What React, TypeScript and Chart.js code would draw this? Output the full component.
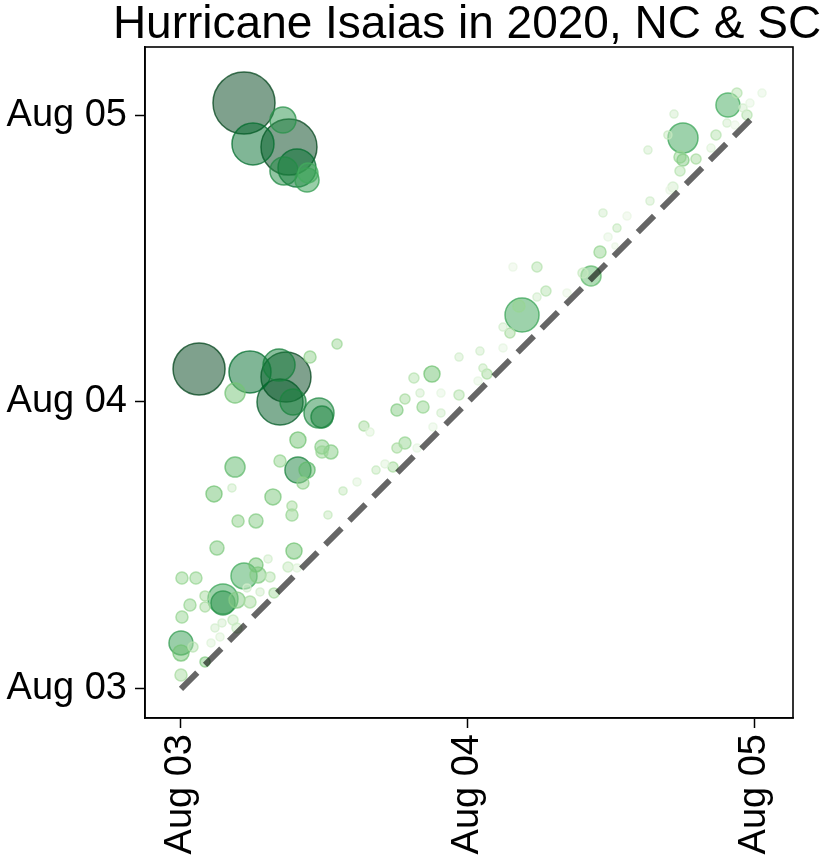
import { useEffect, useRef } from "react";
import { Chart, registerables } from "chart.js";

Chart.register(...registerables);

const TITLE = "Hurricane Isaias in 2020, NC & SC";
const FONT = "'Liberation Sans', Arial, Helvetica, sans-serif";

// hours since Aug 03 00:00
const tickHours = [0, 24, 48];
const tickLabels = ["Aug 03", "Aug 04", "Aug 05"];

// outage onset (x) and peak (y), hours since Aug 03 00:00
const onsetHours = [
  // late-peaking cluster
  5.27, 6.02, 9.03, 8.53, 9.7, 8.61, 10.62, 10.54,
  // Aug 04 cluster
  1.51, 5.77, 8.78, 8.2, 8.28, 9.37, 11.54, 11.79, 4.52, 10.79, 13.05, 9.78, 4.52, 9.78, 10.54, 10.2,
  11.79, 12.54, 11.79, 8.28, 2.76, 4.26, 7.69, 9.28, 15.3, 15.8, 13.55, 14.72, 18.06, 18.06, 16.31,
  17.06, 17.73,
  // early events
  9.28, 4.77, 6.27, 12.29, 3.01, 9.45, 0.08, 1.25, 5.27, 6.27, 6.44, 7.28, 7.44, 3.51, 3.51, 2.01,
  2.01, 0.75, 0.08, 4.68, 5.77, 7.78, 6.61, 5.52, 0.0, 0.0, 1.0, 2.01, 0.0, 2.51, 2.84, 3.43, 4.35,
  4.68, 3.26, 8.95, 9.7,
  // mid-day Aug 04
  20.99, 19.48, 23.25, 25.0, 18.73, 20.24, 19.99, 21.74, 23.25, 21.74, 25.59, 25.25, 24.84, 18.73,
  21.07, 19.74, 27.51, 26.93, 26.93, 28.52, 28.26, 29.77, 27.76, 29.77, 30.52, 34.29, 33.62, 35.04,
  35.29, 36.46, 35.71, 36.29, 32.28,
  // late events
  41.98, 45.74, 46.49, 48.59, 41.23, 39.05, 40.72, 41.73, 41.98, 43.07, 41.73, 44.74, 44.32, 47.33,
  47.0, 47.58, 45.66, 46.33, 41.14, 40.89, 39.22, 37.3,
];

const peakHours = [
  49.0, 45.58, 45.32, 47.58, 43.57, 43.32, 43.15, 42.56,
  26.76, 26.51, 26.09, 27.09, 24.0, 24.0, 23.08, 22.75, 24.75, 27.76, 28.85, 20.82, 18.56, 18.31,
  18.31, 17.23, 20.24, 19.82, 19.82, 19.07, 16.31, 16.81, 16.06, 15.3, 21.99, 21.49, 16.56, 17.31,
  23.33, 20.15, 18.31, 18.82, 18.56,
  14.55, 14.05, 14.05, 14.55, 11.79, 11.54, 9.28, 9.28, 9.45, 10.37, 9.53, 10.87, 9.37, 7.53, 7.19,
  7.78, 6.86, 7.02, 6.02, 7.44, 7.28, 8.03, 8.11, 8.45, 3.85, 3.01, 3.51, 2.26, 1.17, 3.85, 5.1,
  5.52, 5.77, 5.1, 4.35, 10.2, 10.12,
  26.34, 26.01, 27.76, 28.26, 24.25, 23.58, 24.75, 24.75, 24.59, 23.08, 26.34, 26.84, 25.76, 20.57,
  21.91, 20.15, 29.77, 30.27, 28.52, 31.27, 32.03, 35.29, 35.29, 32.78, 33.28, 34.54, 34.79, 36.54,
  39.81, 38.55, 37.8, 37.04, 33.12,
  46.08, 48.84, 49.84, 49.84, 48.08, 45.07, 46.33, 44.49, 44.24, 44.32, 43.32, 46.33, 45.24, 48.0,
  48.59, 49.0, 47.33, 47.16, 41.98, 41.73, 40.81, 39.55,
];

// customers out (thousands) -> bubble area
const outagesK = [
  106.8, 49, 87.1, 18.8, 40.1, 21.8, 11.1, 16,
  75.1, 49, 69.4, 28.4, 58.8, 18.8, 25, 13.4, 11.1, 4, 2.8, 7.1, 11.1, 18.8, 7.1, 4,
  5.4, 5.4, 4, 4, 7.1, 1.8, 7.1, 2.8, 2.8, 1.8, 1.8, 1.8, 4, 2.8, 1.8,
  1.8, 2.8,
  4, 4, 5.4, 1.8, 5.4, 7.1, 4, 4, 18.8, 5.4, 7.1, 1.8, 2.8, 25, 16, 2.8,
  2.8, 4, 4, 7.1, 4, 2.8, 1.8, 1.8, 16, 7.1, 2.8, 2.8, 4, 1.8, 1.8, 1.8, 2.8,
  2.8, 1.8, 2.8, 1.8,
  7.1, 2.8, 1.8, 1.8, 2.8, 4, 1.8, 1.8, 2.8, 1.8, 2.8, 1.8, 1.8, 4,
  1.8, 1.8, 2.8, 1.8, 1.8, 32.1, 4, 2.8, 1.8, 1.8, 2.8, 11.1, 2.8, 4,
  1.8, 1.8, 1.8, 1, 1.8,
  25, 16, 2.8, 1.8, 1.8, 1.8, 1.8, 4, 4, 2.8, 2.8, 2.8, 1.8, 2.8,
  1.8, 1.8, 1.8, 1.8, 2.8, 1.8, 1.8, 1.8,
];

// duration-weighted severity (0..1) -> colour
const severity = [
  1.0, 0.87, 1.0, 0.72, 0.87, 0.75, 0.62, 0.68,
  1.0, 0.87, 1.0, 0.8, 0.93, 0.78, 0.75, 0.78, 0.5, 0.42, 0.38, 0.5, 0.55, 0.78, 0.55, 0.42,
  0.45, 0.45, 0.4, 0.4, 0.5, 0.22, 0.48, 0.35, 0.35, 0.15, 0.25, 0.15, 0.45, 0.35, 0.25,
  0.15, 0.35,
  0.4, 0.42, 0.45, 0.25, 0.45, 0.5, 0.4, 0.4, 0.62, 0.5, 0.45, 0.2, 0.3, 0.65, 0.72, 0.35,
  0.35, 0.4, 0.4, 0.45, 0.35, 0.35, 0.2, 0.2, 0.68, 0.5, 0.3, 0.45, 0.35, 0.15, 0.2, 0.2, 0.25,
  0.25, 0.15, 0.25, 0.15,
  0.5, 0.3, 0.2, 0.2, 0.35, 0.4, 0.2, 0.12, 0.3, 0.2, 0.35, 0.25, 0.12, 0.4,
  0.12, 0.12, 0.35, 0.2, 0.12, 0.65, 0.4, 0.3, 0.1, 0.2, 0.3, 0.55, 0.25, 0.4,
  0.2, 0.25, 0.12, 0.1, 0.1,
  0.65, 0.62, 0.3, 0.12, 0.2, 0.2, 0.25, 0.4, 0.45, 0.35, 0.3, 0.3, 0.15, 0.3,
  0.2, 0.12, 0.2, 0.1, 0.2, 0.1, 0.2, 0.1,
];

const GREENS = [
  [247, 252, 245], [229, 245, 224], [199, 233, 192], [161, 217, 155], [116, 196, 118],
  [65, 171, 93], [35, 139, 69], [0, 109, 44], [0, 68, 27],
];

function greens(t: number, alpha: number): string {
  const s = Math.max(0, Math.min(1, t)) * (GREENS.length - 1);
  const i = Math.min(GREENS.length - 2, Math.floor(s));
  const f = s - i;
  const c = GREENS[i].map((v, k) => Math.round(v + (GREENS[i + 1][k] - v) * f));
  return `rgba(${c[0]},${c[1]},${c[2]},${alpha})`;
}

const framePlugin = {
  id: "frameAndTitle",
  afterDraw(chart: any) {
    const { ctx, chartArea: a } = chart;
    ctx.save();
    ctx.strokeStyle = "#000";
    ctx.lineWidth = 1.6;
    ctx.strokeRect(a.left, a.top, a.right - a.left, a.bottom - a.top);
    ctx.font = `46px ${FONT}`;
    ctx.fillStyle = "#000";
    ctx.textAlign = "center";
    ctx.textBaseline = "alphabetic";
    ctx.fillText(TITLE, (a.left + a.right) / 2 - 2, 38);
    ctx.restore();
  },
};

export default function App() {
  const ref = useRef<HTMLCanvasElement | null>(null);

  useEffect(() => {
    if (!ref.current) return;
    const idx = onsetHours.map((_, i) => i).sort((a, b) => outagesK[b] - outagesK[a]);
    const points = idx.map((i) => ({ x: onsetHours[i], y: peakHours[i], r: 3 * Math.sqrt(outagesK[i]) }));
    const fills = idx.map((i) => greens(severity[i], 0.5));
    const borders = idx.map((i) => greens(severity[i], 0.75));

    const tickCfg = (pad: number, rot: number) => ({
      font: { size: 38, family: FONT },
      color: "#000",
      padding: pad,
      autoSkip: false,
      maxRotation: rot,
      minRotation: rot,
      callback: (v: any) => {
        const k = tickHours.indexOf(Number(v));
        return k >= 0 ? tickLabels[k] : "";
      },
    });
    const gridCfg = {
      drawOnChartArea: false,
      drawTicks: true,
      tickLength: 10,
      tickColor: "#000",
      tickWidth: 1.5,
    };

    const chart = new Chart(ref.current, {
      type: "bubble",
      data: {
        datasets: [
          {
            type: "line",
            data: [
              { x: tickHours[0], y: tickHours[0] },
              { x: tickHours[2], y: tickHours[2] },
            ],
            borderColor: "rgba(0,0,0,0.6)",
            borderWidth: 6,
            borderDash: [23, 11],
            borderCapStyle: "butt",
            pointRadius: 0,
            fill: false,
          } as any,
          {
            type: "bubble",
            data: points,
            backgroundColor: fills,
            borderColor: borders,
            borderWidth: 1.5,
            hoverRadius: 0,
          } as any,
        ],
      },
      options: {
        animation: false,
        responsive: true,
        maintainAspectRatio: false,
        events: [],
        layout: { padding: { top: 47, right: 37, left: 0, bottom: 0 } },
        plugins: { legend: { display: false }, tooltip: { enabled: false }, title: { display: false } },
        scales: {
          x: {
            type: "linear",
            min: -3.01,
            max: 51.18,
            afterBuildTicks: (s: any) => {
              s.ticks = tickHours.map((v) => ({ value: v }));
            },
            afterFit: (s: any) => {
              s.height = 144;
            },
            ticks: tickCfg(6, 90) as any,
            grid: gridCfg as any,
            border: { display: true, color: "#000", width: 1.6 },
          },
          y: {
            type: "linear",
            min: -2.43,
            max: 53.69,
            afterBuildTicks: (s: any) => {
              s.ticks = tickHours.map((v) => ({ value: v }));
            },
            afterFit: (s: any) => {
              s.width = 145;
            },
            ticks: tickCfg(8, 0) as any,
            grid: gridCfg as any,
            border: { display: true, color: "#000", width: 1.6 },
          },
        },
      },
      plugins: [framePlugin],
    });
    return () => chart.destroy();
  }, []);

  return (
    <div style={{ position: "absolute", left: 0, top: 0, width: 830, height: 862 }}>
      <canvas ref={ref} />
    </div>
  );
}
